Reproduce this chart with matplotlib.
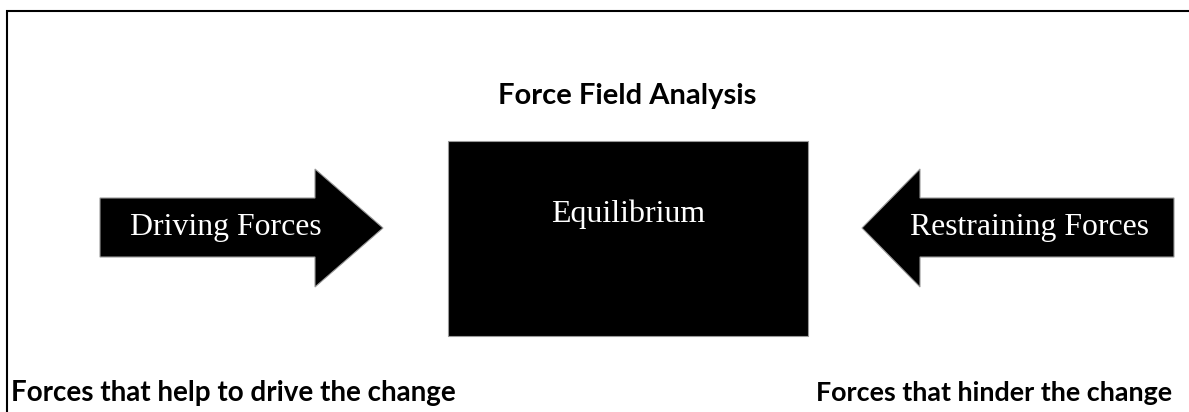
import matplotlib.pyplot as plt
from matplotlib.patches import Rectangle, Polygon

W, H = 1189, 412

title = "Force Field Analysis"
center_label = "Equilibrium"
arrow_labels = ["Driving Forces", "Restraining Forces"]
bottom_labels = ["Forces that help to drive the change", "Forces that hinder the change"]

fig = plt.figure(figsize=(W / 100, H / 100), dpi=100)
ax = fig.add_axes([0, 0, 1, 1])
ax.set_xlim(0, W)
ax.set_ylim(H, 0)
ax.axis('off')

# frame (left and top only, the rest is cropped)
ax.plot([7, 7, W], [H, 11, 11], color='black', lw=1.5, solid_joinstyle='miter')

# centre box
ax.add_patch(Rectangle((448, 141), 360, 195, facecolor='black', edgecolor='#999999', lw=0.8))

# arrows: shaft from y=198 to 257, head from 169 to 287
def arrow(x_tail, x_base, x_tip):
    pts = [(x_tail, 198), (x_base, 198), (x_base, 169), (x_tip, 228),
           (x_base, 287), (x_base, 257), (x_tail, 257)]
    ax.add_patch(Polygon(pts, closed=True, facecolor='black', edgecolor='#999999', lw=0.8))

arrow(100, 315, 383)
arrow(1174, 920, 862)

renderer = fig.canvas.get_renderer()

def fit(t, width):
    # scale the font so the text spans the measured width in pixels
    w = t.get_window_extent(renderer).width
    t.set_fontsize(t.get_fontsize() * width / w)

serif = 'Liberation Serif'
t = ax.text(226, 235, arrow_labels[0], color='white', family=serif, fontsize=21,
            ha='center', va='baseline')
fit(t, 191)
t = ax.text(1030, 235, arrow_labels[1], color='white', family=serif, fontsize=21,
            ha='center', va='baseline')
fit(t, 239)
t = ax.text(628, 222, center_label, color='white', family=serif, fontsize=22,
            ha='center', va='baseline')
fit(t, 154)

sans = 'Lato'
t = ax.text(627, 104, title, family=sans, fontweight='bold', fontsize=19,
            ha='center', va='baseline')
fit(t, 257)
t = ax.text(11, 401, bottom_labels[0], family=sans, fontweight='bold', fontsize=16,
            ha='left', va='baseline')
fit(t, 445)
t = ax.text(1172, 401, bottom_labels[1], family=sans, fontweight='bold', fontsize=16,
            ha='right', va='baseline')
fit(t, 359)

fig.savefig('out.png', dpi=100, facecolor='white')
